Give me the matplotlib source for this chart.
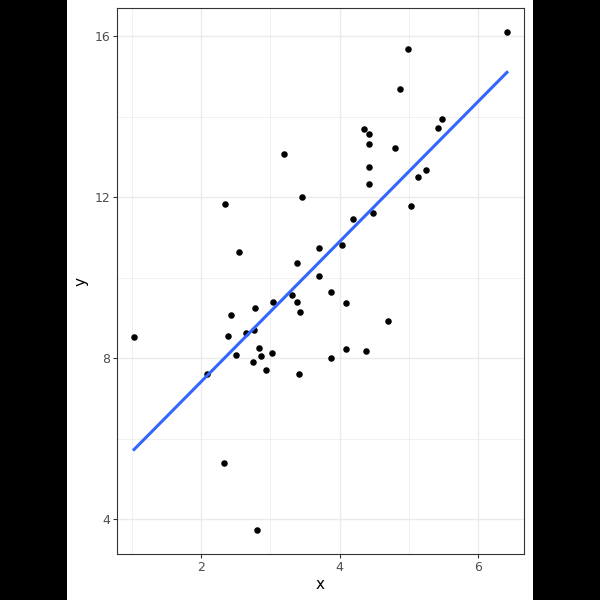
import numpy as np
import matplotlib
matplotlib.use("Agg")
import matplotlib.pyplot as plt
from matplotlib.patches import Rectangle

# scatter points
x = [1.03, 2.09, 2.35, 2.55, 2.39, 2.43, 2.51, 2.65, 2.78, 2.77,
     2.83, 2.87, 2.75, 2.93, 3.03, 3.04, 2.33, 2.80, 3.20, 3.46,
     3.32, 3.39, 3.39, 3.43, 3.41, 3.71, 3.71, 3.87, 4.03, 3.87,
     4.10, 4.10, 4.39, 4.70, 4.20, 4.48, 4.35, 4.42, 4.42, 4.43,
     4.43, 4.80, 4.87, 4.99, 5.04, 5.13, 5.25, 5.43, 5.48, 6.42]
y = [8.52, 7.60, 11.83, 10.63, 8.55, 9.07, 8.07, 8.62, 9.24, 8.70,
     8.25, 8.05, 7.90, 7.70, 8.12, 9.39, 5.39, 3.73, 13.07, 12.00,
     9.57, 9.39, 10.36, 9.14, 7.60, 10.73, 10.04, 9.64, 10.81, 8.00,
     9.37, 8.22, 8.17, 8.92, 11.45, 11.60, 13.69, 13.57, 13.32, 12.75,
     12.32, 13.22, 14.68, 15.68, 11.78, 12.50, 12.67, 13.71, 13.94, 16.10]

x_ticks = [2, 4, 6]
y_ticks = [4, 8, 12, 16]

xa = np.array(x)
ya = np.array(y)
slope, intercept = np.polyfit(xa, ya, 1)
xs = np.linspace(xa.min(), xa.max(), 80)

fig = plt.figure(figsize=(6, 6), dpi=100, facecolor="black")
# white page in the middle, black bars either side
fig.patches.append(Rectangle((67 / 600, 0), 466 / 600, 1, transform=fig.transFigure,
                             facecolor="white", edgecolor="none", zorder=-10))

ax = fig.add_axes([117 / 600, 46 / 600, 407 / 600, 546 / 600])
ax.set_facecolor("white")

ax.set_xlim(0.783, 6.667)
ax.set_ylim(3.13, 16.70)
ax.set_xticks(x_ticks)
ax.set_yticks(y_ticks)
ax.set_xticks([1, 3, 5], minor=True)
ax.set_yticks([6, 10, 14], minor=True)

ax.grid(True, which="major", color="#EBEBEB", linewidth=1.0, zorder=0)
ax.grid(True, which="minor", color="#EBEBEB", linewidth=0.5, zorder=0)
ax.set_axisbelow(True)

ax.scatter(xa, ya, s=22, color="black", zorder=3, linewidths=0)
ax.plot(xs, slope * xs + intercept, color="#3366FF", linewidth=2.2, zorder=4)

for sp in ax.spines.values():
    sp.set_color("#333333")
    sp.set_linewidth(0.8)

ax.tick_params(which="major", length=3, width=0.8, color="#333333",
               labelcolor="#4D4D4D", labelsize=9, pad=2)
ax.tick_params(which="minor", length=0)

ax.set_xlabel("x", fontsize=11, labelpad=2)
ax.set_ylabel("y", fontsize=11, labelpad=4)

fig.savefig("out.png", dpi=100, facecolor="black")
